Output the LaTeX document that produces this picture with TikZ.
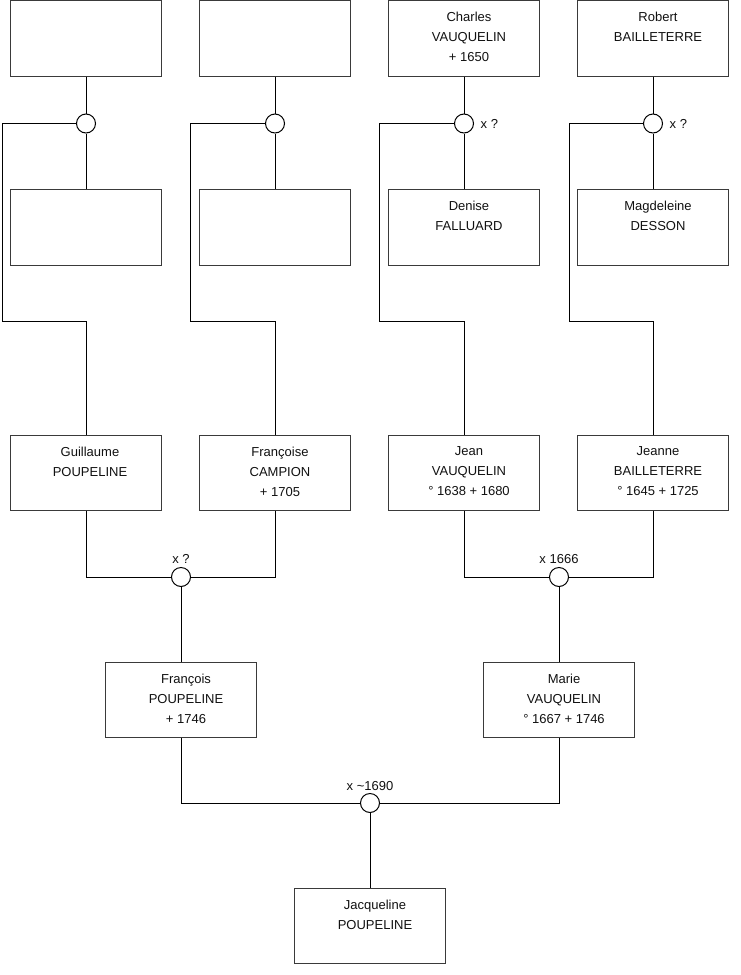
\documentclass[tikz,border=0pt]{standalone}
\usepackage{fontspec}
\setmainfont{Liberation Sans}
\definecolor{boxgray}{HTML}{3A3A3A}
\definecolor{txt}{HTML}{111111}
\tikzset{
  pbox/.style={draw=boxgray, line width=1pt, minimum width=151pt, minimum height=75.5pt, inner sep=0pt, fill=white},
  ptext/.style={anchor=north, inner sep=0pt, align=center, text=txt, font=\fontsize{13}{20}\selectfont},
  mar/.style={circle, draw=black, line width=1pt, minimum size=19pt, inner sep=0pt, fill=white},
  link/.style={line width=1pt, draw=black},
  mlab/.style={inner sep=0pt, text=txt, font=\fontsize{13}{16}\selectfont},
}
\begin{document}
\begin{tikzpicture}[x=1pt, y=-1pt]
\useasboundingbox[fill=white] (0,0) rectangle (740,975);

% top row
\node[pbox] (a1) at (86,38.25) {};
\node[pbox] (a2) at (275,38.25) {};
\node[pbox] (a3) at (464,38.25) {};
\node[pbox] (a4) at (653,38.25) {};
\node[ptext, xshift=5pt, yshift=-12pt] (ta3) at (a3.north) {Charles\\VAUQUELIN\\+ 1650};
\node[ptext, xshift=5pt, yshift=-12pt] (ta4) at (a4.north) {Robert\\BAILLETERRE};

% marriages top
\node[mar] (m1) at (86,123.5) {};
\node[mar] (m2) at (275,123.5) {};
\node[mar] (m3) at (464,123.5) {};
\node[mar] (m4) at (653,123.5) {};
\node[mlab, anchor=west] (l3) at ([xshift=6.5pt]m3.east) {x ?};
\node[mlab, anchor=west] (l4) at ([xshift=6.5pt]m4.east) {x ?};

% second row
\node[pbox] (w1) at (86,227.25) {};
\node[pbox] (w2) at (275,227.25) {};
\node[pbox] (w3) at (464,227.25) {};
\node[pbox] (w4) at (653,227.25) {};
\node[ptext, xshift=5pt, yshift=-12pt] (tw3) at (w3.north) {Denise\\FALLUARD};
\node[ptext, xshift=5pt, yshift=-12pt] (tw4) at (w4.north) {Magdeleine\\DESSON};

% third row
\node[pbox] (p1) at (86,472.75) {};
\node[pbox] (p2) at (275,472.75) {};
\node[pbox] (p3) at (464,472.75) {};
\node[pbox] (p4) at (653,472.75) {};
\node[ptext, xshift=4pt, yshift=-12pt] (tp1) at (p1.north) {Guillaume\\POUPELINE};
\node[ptext, xshift=5pt, yshift=-12pt] (tp2) at (p2.north) {Françoise\\CAMPION\\+ 1705};
\node[ptext, xshift=5pt, yshift=-12pt] (tp3) at (p3.north) {Jean\\VAUQUELIN\\° 1638 + 1680};
\node[ptext, xshift=5pt, yshift=-12pt] (tp4) at (p4.north) {Jeanne\\BAILLETERRE\\° 1645 + 1725};

% marriages row 3
\node[mar] (m5) at (181,577) {};
\node[mar] (m6) at (559,577) {};
\node[mlab, anchor=base] (l5) at ([yshift=13.5pt]m5.center) {x ?};
\node[mlab, anchor=base] (l6) at ([yshift=13.5pt]m6.center) {x 1666};

% fourth row
\node[pbox] (c1) at (181,699.75) {};
\node[pbox] (c2) at (559,699.75) {};
\node[ptext, xshift=5pt, yshift=-12pt] (tc1) at (c1.north) {François\\POUPELINE\\+ 1746};
\node[ptext, xshift=5pt, yshift=-12pt] (tc2) at (c2.north) {Marie\\VAUQUELIN\\° 1667 + 1746};

% final marriage
\node[mar] (m7) at (370,803) {};
\node[mlab, anchor=base] (l7) at ([yshift=13pt]m7.center) {x \textasciitilde1690};

% bottom
\node[pbox] (j) at (370,926) {};
\node[ptext, xshift=5pt, yshift=-12pt] (tj) at (j.north) {Jacqueline\\POUPELINE};

% route coordinates
\coordinate (k1) at (2,321.7);
\coordinate (k2) at (190.5,321.7);
\coordinate (k3) at (379.5,321.7);
\coordinate (k4) at (569,321.7);

% connectors
\draw[link] (a1.south) -- (m1.north);
\draw[link] (a2.south) -- (m2.north);
\draw[link] (a3.south) -- (m3.north);
\draw[link] (a4.south) -- (m4.north);
\draw[link] (m1.south) -- (w1.north);
\draw[link] (m2.south) -- (w2.north);
\draw[link] (m3.south) -- (w3.north);
\draw[link] (m4.south) -- (w4.north);
\draw[link] (m1.west) -| (k1) -| (p1.north);
\draw[link] (m2.west) -| (k2) -| (p2.north);
\draw[link] (m3.west) -| (k3) -| (p3.north);
\draw[link] (m4.west) -| (k4) -| (p4.north);

\draw[link] (p1.south) |- (m5.west);
\draw[link] (p2.south) |- (m5.east);
\draw[link] (m5.south) -- (c1.north);
\draw[link] (p3.south) |- (m6.west);
\draw[link] (p4.south) |- (m6.east);
\draw[link] (m6.south) -- (c2.north);

\draw[link] (c1.south) |- (m7.west);
\draw[link] (c2.south) |- (m7.east);
\draw[link] (m7.south) -- (j.north);
\end{tikzpicture}
\end{document}
